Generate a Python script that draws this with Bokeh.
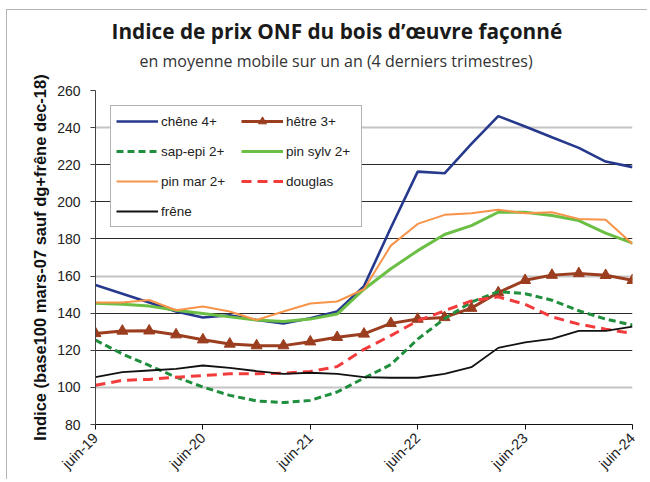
import math
from bokeh.plotting import figure
from bokeh.models import Range1d, FixedTicker, Legend, LegendItem, Grid, Title
from bokeh.embed import file_html
from bokeh.resources import INLINE

# quarterly points, juin-19 .. juin-24 (index 0..20)
quarter_idx = list(range(21))
tick_positions = [0, 4, 8, 12, 16, 20]
tick_labels = ["juin-19", "juin-20", "juin-21", "juin-22", "juin-23", "juin-24"]
y_ticks = [80, 100, 120, 140, 160, 180, 200, 220, 240, 260]

chene = [155.2, 150.5, 145.7, 140.9, 137.7, 138.9, 136.3, 134.5, 137.3, 140.9, 154.6,
         186.0, 216.3, 215.4, 231.2, 246.2, 240.6, 234.8, 229.1, 221.7, 218.7]
hetre = [129.1, 130.4, 130.5, 128.4, 125.7, 123.4, 122.5, 122.5, 124.6, 127.0, 128.8,
         134.5, 136.8, 137.7, 142.7, 151.1, 157.7, 160.5, 161.4, 160.4, 157.7]
sap_epi = [125.5, 118.0, 111.8, 105.5, 100.2, 95.7, 92.7, 91.8, 93.0, 97.5, 105.0,
           112.3, 126.0, 137.0, 146.0, 151.6, 150.5, 147.0, 141.3, 136.8, 133.6]
pin_sylv = [145.4, 144.8, 143.8, 141.6, 139.8, 138.0, 136.3, 135.5, 136.8, 139.5, 152.9,
            163.9, 173.7, 182.4, 187.2, 194.4, 194.4, 192.6, 189.9, 183.1, 177.7]
pin_mar = [145.7, 145.7, 147.1, 141.6, 143.6, 140.9, 136.3, 140.9, 145.2, 146.3, 152.9,
           176.4, 188.1, 193.0, 193.9, 195.7, 193.9, 194.4, 190.8, 190.3, 177.3]
douglas = [101.1, 103.8, 104.3, 105.5, 106.4, 107.3, 107.3, 107.7, 108.6, 111.2, 120.5,
           127.9, 135.9, 141.3, 146.6, 148.8, 144.8, 138.0, 134.1, 131.4, 129.1]
frene = [105.5, 108.2, 109.1, 110.0, 111.8, 110.5, 108.8, 107.3, 107.9, 107.3, 105.5,
         105.2, 105.2, 107.3, 110.9, 121.3, 124.3, 126.1, 130.5, 130.5, 132.7]

p = figure(width=641, height=470, output_backend="svg", toolbar_location=None, title=None,
           x_range=Range1d(0, 20), y_range=Range1d(80, 260),
           min_border_left=88, min_border_right=16, min_border_top=80, min_border_bottom=56)
p.outline_line_color = None
p.background_fill_color = "white"
p.border_fill_color = "white"
p.styles = {"margin-left": "6px", "margin-top": "9px",
            "border-top": "1px solid #b4b4b4", "border-left": "1px solid #b4b4b4"}

# grids
p.xgrid.visible = False
p.ygrid.ticker = FixedTicker(ticks=[120, 140, 180, 200, 220, 260])
p.ygrid.grid_line_color = "#2a2a2a"
p.ygrid.grid_line_width = 1
light_grid = Grid(dimension=1, ticker=FixedTicker(ticks=[100, 160, 240]),
                  grid_line_color="#c4c4c4", grid_line_width=2)
p.add_layout(light_grid)

# axes
p.xaxis.ticker = FixedTicker(ticks=tick_positions)
p.xaxis.major_label_overrides = {k: v for k, v in zip(tick_positions, tick_labels)}
p.xaxis.major_label_orientation = math.pi / 4
p.yaxis.ticker = FixedTicker(ticks=y_ticks)
for ax in (p.xaxis, p.yaxis):
    ax.minor_tick_line_color = None
    ax.major_tick_in = 0
    ax.major_tick_out = 5
    ax.major_label_text_font = "Liberation Sans"
    ax.major_label_text_color = "#222222"
p.xaxis.axis_line_color = "#111111"
p.xaxis.major_tick_line_color = "#111111"
p.yaxis.axis_line_color = "#444444"
p.yaxis.major_tick_line_color = "#444444"
p.xaxis.major_label_text_font_size = "14.5px"
p.xaxis.major_label_standoff = 6
p.yaxis.major_label_text_font_size = "14px"
p.yaxis.major_label_standoff = 10
p.yaxis.axis_label = "Indice (base100 mars-07 sauf dg+frêne dec-18)"
p.yaxis.axis_label_text_font = "Liberation Sans"
p.yaxis.axis_label_text_font_style = "bold"
p.yaxis.axis_label_text_font_size = "16.5px"
p.yaxis.axis_label_text_color = "#111111"
p.yaxis.axis_label_standoff = 5

# series (Excel order)
r_chene = p.line(quarter_idx, chene, line_color="#26398c", line_width=2.6)
r_hetre = p.line(quarter_idx, hetre, line_color="#9b3d1f", line_width=3)
r_hetre_m = p.scatter(quarter_idx, hetre, marker="triangle", size=11,
                      fill_color="#9b3d1f", line_color="#9b3d1f")
r_sap = p.line(quarter_idx, sap_epi, line_color="#1f8e3d", line_width=3, line_dash="7 4")
r_sylv = p.line(quarter_idx, pin_sylv, line_color="#6cbf45", line_width=3)
r_mar = p.line(quarter_idx, pin_mar, line_color="#f7944a", line_width=2)
r_doug = p.line(quarter_idx, douglas, line_color="#f23c3c", line_width=3, line_dash="10 6")
r_frene = p.line(quarter_idx, frene, line_color="#111111", line_width=1.8)

legend = Legend(items=[
    LegendItem(label="chêne 4+", renderers=[r_chene]),
    LegendItem(label="hêtre 3+", renderers=[r_hetre, r_hetre_m]),
    LegendItem(label="sap-epi 2+", renderers=[r_sap]),
    LegendItem(label="pin sylv 2+", renderers=[r_sylv]),
    LegendItem(label="pin mar 2+", renderers=[r_mar]),
    LegendItem(label="douglas", renderers=[r_doug]),
    LegendItem(label="frêne", renderers=[r_frene]),
], location=(15, 197), orientation="horizontal", ncols=2)
legend.border_line_color = "#666666"
legend.border_line_width = 1
legend.background_fill_color = "white"
legend.background_fill_alpha = 1
legend.label_text_font = "Liberation Sans"
legend.label_text_font_size = "13.5px"
legend.label_text_color = "#222222"
legend.glyph_width = 42
legend.glyph_height = 20
legend.label_height = 20
legend.label_width = 70
legend.label_standoff = 3
legend.spacing = 10
legend.padding = 5
legend.margin = 0
p.add_layout(legend)

# title block: spacer (nearest the frame), subtitle, main title
spacer = Title(text=" ", standoff=7, text_font_size="8px", text_color="white")
subtitle = Title(text="en moyenne mobile sur un an (4 derniers trimestres)",
                 align="left", offset=44, standoff=2,
                 text_font="Open Sans", text_font_style="normal",
                 text_font_size="16px", text_color="#333333")
title = Title(text="Indice de prix ONF du bois d’œuvre façonné",
              align="left", offset=16, standoff=4,
              text_font="Open Sans", text_font_style="bold",
              text_font_size="20.8px", text_color="#1a1a1a")
p.add_layout(spacer, "above")
p.add_layout(subtitle, "above")
p.add_layout(title, "above")

open("out.html", "w").write(file_html(p, INLINE))
